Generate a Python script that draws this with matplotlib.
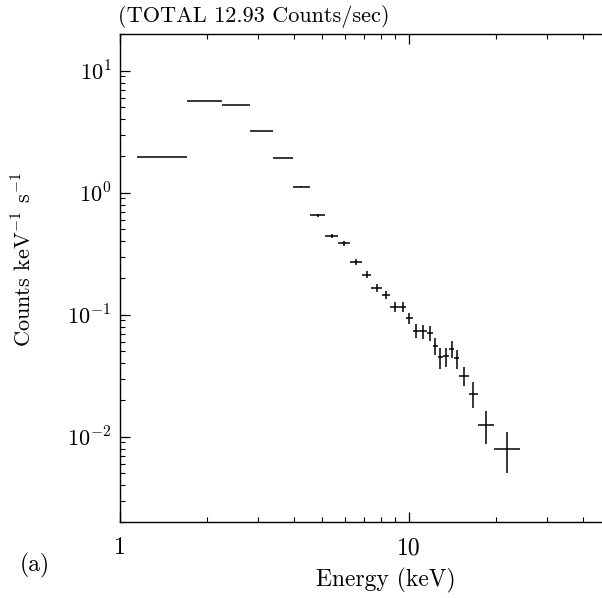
import numpy as np
import matplotlib
matplotlib.use("Agg")
import matplotlib.pyplot as plt
from matplotlib.ticker import FixedLocator, FuncFormatter, LogLocator, NullFormatter

plt.rcParams['font.family'] = ['cmr10', 'DejaVu Serif']
plt.rcParams['mathtext.fontset'] = 'cm'
plt.rcParams['axes.formatter.use_mathtext'] = True

# Energy bin edges (keV)
bin_edges = [1.145, 1.705, 2.26, 2.82, 3.39, 3.97, 4.56, 5.13, 5.71, 6.26, 6.88,
             7.43, 8.07, 8.65, 9.26, 9.79, 10.35, 10.94, 11.54, 12.10, 12.6,
             13.17, 13.79, 14.38, 14.97, 16.17, 17.33, 19.73, 24.3]
# Counts keV^-1 s^-1
counts = [1.96, 5.68, 5.26, 3.18, 1.94, 1.12, 0.652, 0.444, 0.384, 0.272, 0.213,
          0.1655, 0.146, 0.1163, 0.1163, 0.094, 0.0739, 0.073, 0.0708, 0.0557,
          0.0447, 0.0455, 0.0523, 0.0438, 0.0316, 0.0226, 0.0124, 0.00797]
count_err = [0.0, 0.0, 0.0, 0.0, 0.0, 0.01, 0.019, 0.017, 0.015, 0.0165, 0.014,
             0.013, 0.0115, 0.011, 0.011, 0.01, 0.0098, 0.01, 0.0096, 0.009,
             0.0087, 0.008, 0.0084, 0.0078, 0.0056, 0.0054, 0.0037, 0.0029]

title_text = "(TOTAL 12.93 Counts/sec)"
panel_label = "(a)"
x_label = "Energy (keV)"
y_label = "Counts keV$^{-1}$ s$^{-1}$"

edges = np.array(bin_edges)
lo, hi = edges[:-1], edges[1:]
xc = np.sqrt(lo * hi)
xerr = np.vstack([xc - lo, hi - xc])

fig = plt.figure(figsize=(6.02, 5.98), dpi=100)
ax = fig.add_axes([0.1988, 0.1271, 0.8156, 0.816])
ax.set_xscale('log')
ax.set_yscale('log')
ax.errorbar(xc, counts, xerr=xerr, yerr=count_err, fmt='none',
            ecolor='black', elinewidth=1.1, capsize=0)
ax.set_xlim(1, 50)
ax.set_ylim(0.002, 20)

ax.xaxis.set_major_locator(FixedLocator([1, 10]))
ax.xaxis.set_major_formatter(FuncFormatter(lambda v, p: f"{v:g}"))
ax.xaxis.set_minor_locator(LogLocator(base=10, subs=np.arange(2, 10)))
ax.xaxis.set_minor_formatter(NullFormatter())
ax.yaxis.set_major_locator(FixedLocator([0.01, 0.1, 1, 10]))
ax.yaxis.set_major_formatter(FuncFormatter(lambda v, p: r"$10^{%d}$" % int(round(np.log10(v)))))
ax.yaxis.set_minor_locator(LogLocator(base=10, subs=np.arange(2, 10)))
ax.yaxis.set_minor_formatter(NullFormatter())

ax.tick_params(which='both', direction='in', top=True, right=False, colors='black')
ax.tick_params(which='major', length=7, width=0.9)
ax.tick_params(which='minor', length=3.5, width=0.8)
ax.tick_params(axis='x', which='major', pad=11, labelsize=17)
ax.tick_params(axis='y', which='major', pad=6, labelsize=16)
for s in ax.spines.values():
    s.set_linewidth(1.0)

ax.set_xlabel(x_label, fontsize=17)
ax.xaxis.set_label_coords(0.542, -0.094)
ax.set_ylabel(y_label, fontsize=16)
ax.yaxis.set_label_coords(-0.171, 0.537)
fig.text(118 / 602, 1 - 17 / 598, title_text, fontsize=16, ha='left', va='center')
fig.text(20 / 602, 1 - 565 / 598, panel_label, fontsize=17, ha='left', va='center')

fig.savefig("out.png", dpi=100)
